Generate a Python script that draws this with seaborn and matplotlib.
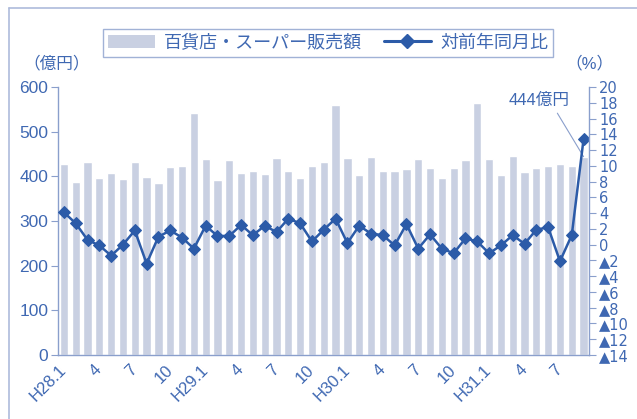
import matplotlib
matplotlib.use("Agg")
import matplotlib.pyplot as plt
import seaborn as sns
import pandas as pd
import numpy as np
from matplotlib.lines import Line2D
from matplotlib.patches import Patch

# monthly sales (億円), H28.1 - H31.9
sales = [427, 387, 431, 396, 407, 394, 432, 398, 385, 421, 423, 542,
         438, 391, 436, 408, 412, 405, 440, 412, 397, 423, 432, 560,
         442, 402, 443, 413, 413, 416, 439, 419, 396, 419, 436, 564,
         439, 402, 446, 410, 419, 424, 428, 424, 444]
# year-on-year change (%)
yoy = [4.1, 2.7, 0.6, -0.1, -1.4, 0.0, 1.8, -2.4, 1.0, 1.8, 0.9, -0.5,
       2.4, 1.1, 1.1, 2.5, 1.2, 2.4, 1.6, 3.3, 2.7, 0.4, 1.9, 3.3,
       0.2, 2.4, 1.4, 1.2, -0.1, 2.6, -0.5, 1.3, -0.5, -1.1, 0.8, 0.4,
       -1.1, -0.1, 1.2, 0.1, 1.9, 2.2, -2.1, 1.2, 13.4]
month_labels = ["H28.1", "4", "7", "10", "H29.1", "4", "7", "10",
                "H30.1", "4", "7", "10", "H31.1", "4", "7"]
bar_label = "百貨店・スーパー販売額"
line_label = "対前年同月比"

df = pd.DataFrame({"idx": np.arange(len(sales)), "sales": sales, "yoy": yoy})

sns.set_style("white")
plt.rcParams['font.family'] = ['Liberation Sans Narrow', 'Liberation Sans', 'Noto Sans CJK JP', 'DejaVu Sans']

text_c = "#3f68b2"
axis_c = "#8a9fcc"
bar_c = "#c9d0e2"
line_c = "#2c5ba8"

fig = plt.figure(figsize=(6.37, 4.19), dpi=100)
ax = fig.add_axes([0.0911, 0.1527, 0.8343, 0.6397])

sns.barplot(data=df, x="idx", y="sales", color=bar_c, width=0.7,
            saturation=1, ax=ax, zorder=1)
ax.set_xlim(-0.5, len(sales) - 0.5)
ax.set_ylim(0, 600)
ax.set_yticks(range(0, 601, 100))
ax.set_xlabel("")
ax.set_ylabel("")

ax.set_xticks(range(0, len(sales), 3))
ax.set_xticklabels(month_labels, rotation=45, ha="right", va="center",
                   rotation_mode="anchor")
ax.set_xticks(np.arange(-0.5, len(sales), 1), minor=True)
ax.tick_params(axis="x", which="major", length=0, pad=9, labelsize=12, colors=text_c)
ax.tick_params(axis="x", which="minor", length=3, width=0.8, color=axis_c, direction="out")
ax.tick_params(axis="y", length=5, width=0.8, color=axis_c, labelsize=12.5,
               labelcolor=text_c, pad=2)
for s in ["top", "right"]:
    ax.spines[s].set_visible(False)
for s in ["left", "bottom"]:
    ax.spines[s].set_color(axis_c)
    ax.spines[s].set_linewidth(1.0)

ax2 = ax.twinx()
sns.lineplot(data=df, x="idx", y="yoy", color=line_c, linewidth=1.8,
             marker="D", markersize=6, markeredgecolor=line_c, ax=ax2)
ax2.set_ylim(-14, 20)
ticks = list(range(20, -15, -2))
ax2.set_yticks(ticks)
ax2.set_yticklabels([str(t) if t >= 0 else "▲" + str(-t) for t in ticks],
                    family=["DejaVu Sans"])
ax2.set_xlim(-0.5, len(sales) - 0.5)
ax2.set_xlabel("")
ax2.set_ylabel("")
ax2.tick_params(axis="y", length=5, width=0.8, color=axis_c, labelsize=10.5,
                labelcolor=text_c, pad=2)
for s in ["top", "left", "bottom"]:
    ax2.spines[s].set_visible(False)
ax2.spines["right"].set_color(axis_c)
ax2.spines["right"].set_linewidth(1.0)

# unit labels
fig.text(0.036, 0.848, "（億円）", color=text_c, fontsize=12, ha="left", va="center")
fig.text(0.925, 0.848, "（%）", color=text_c, fontsize=12, ha="center", va="center")

# callout for last bar
ax.annotate("444億円", xy=(len(sales) - 1, sales[-1]), xytext=(40.2, 571),
            color=text_c, fontsize=12, ha="center", va="center",
            arrowprops=dict(arrowstyle="-", color=axis_c, lw=0.8,
                            shrinkA=2, shrinkB=0, relpos=(0.75, 0)))

# legend
handles = [Patch(facecolor=bar_c, edgecolor="none"),
           Line2D([0], [0], color=line_c, lw=2.2, marker="D", markersize=7)]
leg = fig.legend(handles, [bar_label, line_label], loc="center",
                 bbox_to_anchor=(0.515, 0.897), ncol=2, frameon=True,
                 fancybox=False, fontsize=13, handlelength=2.6,
                 handletextpad=0.5, columnspacing=1.2, borderpad=0.3)
leg.get_frame().set_edgecolor(axis_c)
leg.get_frame().set_linewidth(1.0)
for t in leg.get_texts():
    t.set_color(text_c)

# outer frame
fig.add_artist(Line2D([0.014, 1.0], [0.981, 0.981], color="#aebbdc", lw=1.2))
fig.add_artist(Line2D([0.014, 0.014], [0.0, 0.981], color="#aebbdc", lw=1.2))

fig.savefig("out.png", dpi=100)
